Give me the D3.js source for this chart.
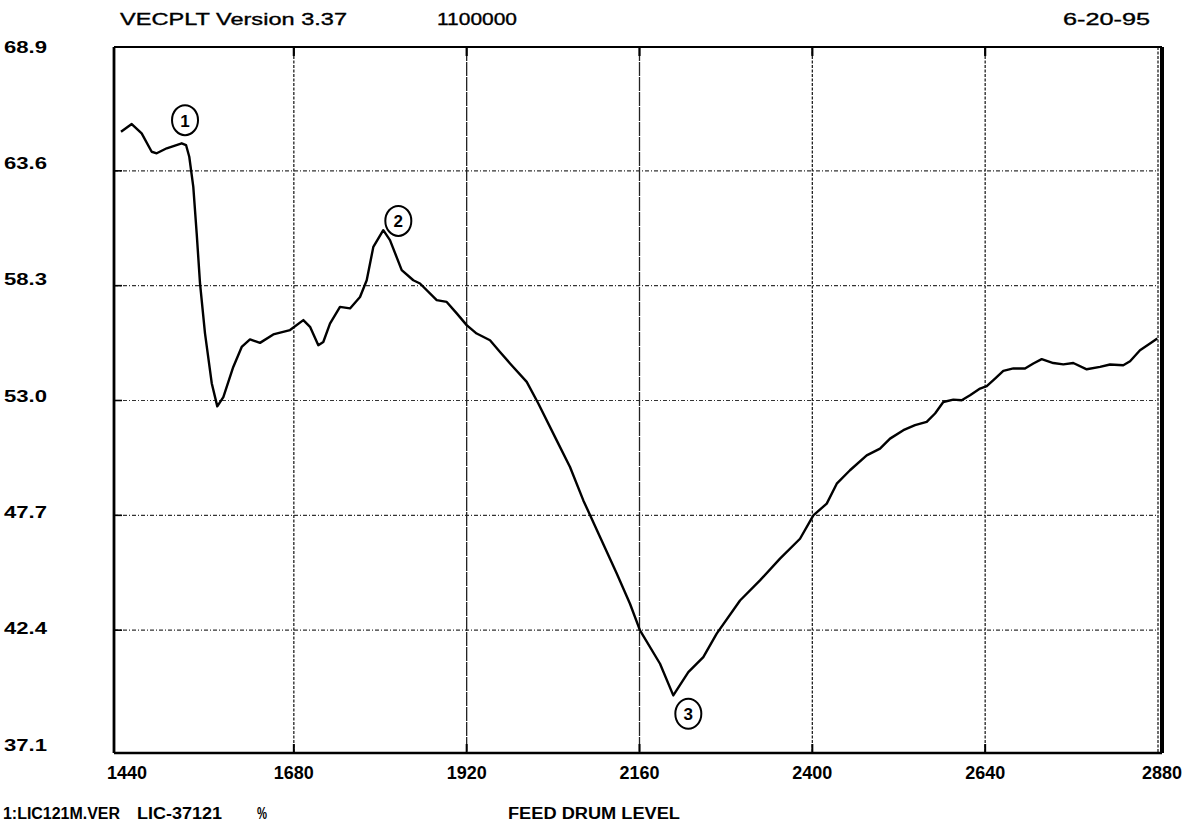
<!DOCTYPE html>
<html>
<head>
<meta charset="utf-8">
<script src="https://cdn.jsdelivr.net/npm/d3@7"></script>
<style>
  html, body { margin: 0; padding: 0; background: #fff; }
  svg { display: block; }
  text { font-family: "Liberation Sans", Arial, sans-serif; fill: #000; }
</style>
</head>
<body>
<svg id="chart" width="1182" height="838"></svg>
<script>
// ---------------- data ----------------
const times = [1440,1454.9,1468.7,1482.6,1489.6,1503.5,1524.3,1530.3,1534.8,1540.4,1545.1,1549.7,1556.6,1566,1573.7,1582.1,1595.9,1607.6,1619.1,1633,1651.5,1674.7,1693.2,1702.5,1714,1720.9,1730.2,1744.1,1758,1771.9,1781.2,1790.4,1804.2,1813.5,1829.8,1845.9,1855.2,1878.4,1892.3,1906.2,1920,1933.9,1952.4,1966.3,1980.2,2003.4,2019.5,2045,2063.5,2082,2105.2,2128.4,2146.8,2160.7,2188.5,2206.9,2227.8,2248.6,2267.2,2299.6,2327.3,2355.1,2382.9,2401.4,2420,2433.9,2452.3,2475.5,2494,2507.9,2526.4,2542.6,2558.8,2570.4,2581.9,2595.8,2607.4,2619,2632.9,2642.2,2653.7,2665.2,2679.1,2695.3,2706.9,2718.5,2734.6,2748.5,2762.4,2781,2799.5,2813.4,2831.8,2841.2,2855,2868.9,2879];
const levels = [65.40,65.76,65.33,64.48,64.41,64.64,64.87,64.79,64.25,62.86,60.71,58.42,56.11,53.80,52.73,53.16,54.55,55.47,55.82,55.66,56.05,56.25,56.71,56.40,55.55,55.70,56.55,57.32,57.25,57.78,58.55,60.09,60.86,60.40,59.02,58.55,58.40,57.63,57.55,57.02,56.48,56.09,55.78,55.24,54.71,53.86,52.86,51.16,49.93,48.39,46.70,45.01,43.62,42.39,40.85,39.39,40.46,41.16,42.24,43.77,44.70,45.70,46.62,47.70,48.24,49.16,49.78,50.47,50.78,51.24,51.63,51.86,52.01,52.40,52.93,53.04,53.01,53.24,53.55,53.66,54.01,54.37,54.48,54.48,54.71,54.91,54.73,54.67,54.73,54.44,54.55,54.66,54.63,54.81,55.32,55.63,55.86];

const xTicks = [1440,1680,1920,2160,2400,2640,2880];
const yTicks = [68.9,63.6,58.3,53.0,47.7,42.4,37.1];
const yTickLabels = ["68.9","63.6","58.3","53.0","47.7","42.4","37.1"];

const markerLabels = ["1","2","3"];
const markerTimes = [1528.9,1825.1,2227.8];
const markerLevels = [65.94,61.29,38.54];

const headerTexts = ["VECPLT Version 3.37","1100000","6-20-95"];
const footerTexts = ["1:LIC121M.VER","LIC-37121","%","FEED DRUM LEVEL"];

// ---------------- chart ----------------
const svg = d3.select("#chart");
const x = d3.scaleLinear().domain([1440, 2880]).range([121, 1158]);
const y = d3.scaleLinear().domain([37.1, 68.9]).range([745, 56]);
const yLab = d3.scaleLinear().domain([37.1, 68.9]).range([745, 47]);

const L = x.range()[0] - 7, R = x.range()[1] + 4;
const T = y.range()[1] - 9, B = y.range()[0] + 8;

// gridlines
const gGrid = svg.append("g");
gGrid.selectAll("line.h").data(yTicks.slice(1, -1)).join("line")
  .attr("x1", L).attr("x2", x(2880))
  .attr("y1", d => y(d)).attr("y2", d => y(d))
  .attr("stroke", "#333").attr("stroke-width", 1.1)
  .attr("stroke-dasharray", "4,2,1,2");
gGrid.selectAll("line.v").data(xTicks.slice(1)).join("line")
  .attr("x1", d => x(d)).attr("x2", d => x(d))
  .attr("y1", T).attr("y2", B)
  .attr("stroke", "#222").attr("stroke-width", 1.3)
  .attr("stroke-dasharray", d => (d === 1920 || d === 2160) ? "14,1" : "3,1.5");
// short bold tick stubs
gGrid.selectAll("line.vt").data(xTicks.slice(1, -1)).join("line")
  .attr("x1", d => x(d)).attr("x2", d => x(d))
  .attr("y1", T).attr("y2", T + 9)
  .attr("stroke", "#000").attr("stroke-width", 2.2);
gGrid.selectAll("line.vb").data(xTicks.slice(1, -1)).join("line")
  .attr("x1", d => x(d)).attr("x2", d => x(d))
  .attr("y1", B - 9).attr("y2", B)
  .attr("stroke", "#000").attr("stroke-width", 2);
gGrid.selectAll("line.hl").data(yTicks.slice(1, -1)).join("line")
  .attr("x1", L).attr("x2", L + 8)
  .attr("y1", d => y(d)).attr("y2", d => y(d))
  .attr("stroke", "#000").attr("stroke-width", 1.6);

// frame
const gFrame = svg.append("g").attr("fill", "none").attr("stroke", "#000");
gFrame.append("line").attr("x1", L).attr("x2", R).attr("y1", T).attr("y2", T).attr("stroke-width", 2.2);
gFrame.append("line").attr("x1", L).attr("x2", R).attr("y1", B).attr("y2", B).attr("stroke-width", 2.6);
gFrame.append("line").attr("x1", L).attr("x2", L).attr("y1", T).attr("y2", B).attr("stroke-width", 2.8);
gFrame.append("line").attr("x1", R).attr("x2", R).attr("y1", T).attr("y2", B).attr("stroke-width", 4);

// data line
const line = d3.line().x((d, i) => x(times[i])).y((d, i) => y(levels[i]));
svg.append("path").datum(levels)
  .attr("d", line)
  .attr("fill", "none").attr("stroke", "#000")
  .attr("stroke-width", 2.4).attr("stroke-linejoin", "round");

// annotations
const gAnn = svg.append("g");
markerLabels.forEach((lab, i) => {
  const cx = x(markerTimes[i]), cy = y(markerLevels[i]);
  gAnn.append("ellipse").attr("cx", cx).attr("cy", cy)
    .attr("rx", 13).attr("ry", 15)
    .attr("fill", "none").attr("stroke", "#000").attr("stroke-width", 2);
  gAnn.append("text").attr("x", cx).attr("y", cy + 1)
    .attr("text-anchor", "middle").attr("dominant-baseline", "central")
    .attr("font-size", 17).attr("font-weight", "bold").text(lab);
});

// y tick labels
svg.append("g").selectAll("text").data(yTicks).join("text")
  .attr("x", 4).attr("y", d => yLab(d))
  .attr("dominant-baseline", "central")
  .attr("font-size", 17).attr("font-weight", "bold")
  .attr("textLength", 43).attr("lengthAdjust", "spacingAndGlyphs")
  .text((d, i) => yTickLabels[i]);

// x tick labels
svg.append("g").selectAll("text").data(xTicks).join("text")
  .attr("x", d => x(d) + (d === 1440 ? 6 : d === 2880 ? 4 : 0)).attr("y", B + 20)
  .attr("text-anchor", "middle").attr("dominant-baseline", "central")
  .attr("font-size", 18).attr("font-weight", "bold")
  .attr("textLength", 40).attr("lengthAdjust", "spacingAndGlyphs")
  .text(d => String(d));

// header
const hdrX = [120, 437, 1063], hdrW = [227, 80, 87];
svg.append("g").selectAll("text").data(headerTexts).join("text")
  .attr("x", (d, i) => hdrX[i]).attr("y", 25)
  .attr("font-size", 17)
  .attr("stroke", "#000").attr("stroke-width", 0.35)
  .attr("textLength", (d, i) => hdrW[i]).attr("lengthAdjust", "spacingAndGlyphs")
  .text(d => d);

// footer
const ftX = [3, 137, 257, 508], ftW = [117, 85, 10, 172];
svg.append("g").selectAll("text").data(footerTexts).join("text")
  .attr("x", (d, i) => ftX[i]).attr("y", 819)
  .attr("font-size", 16).attr("font-weight", "bold")
  .attr("textLength", (d, i) => ftW[i]).attr("lengthAdjust", "spacingAndGlyphs")
  .text(d => d);
</script>
</body>
</html>
